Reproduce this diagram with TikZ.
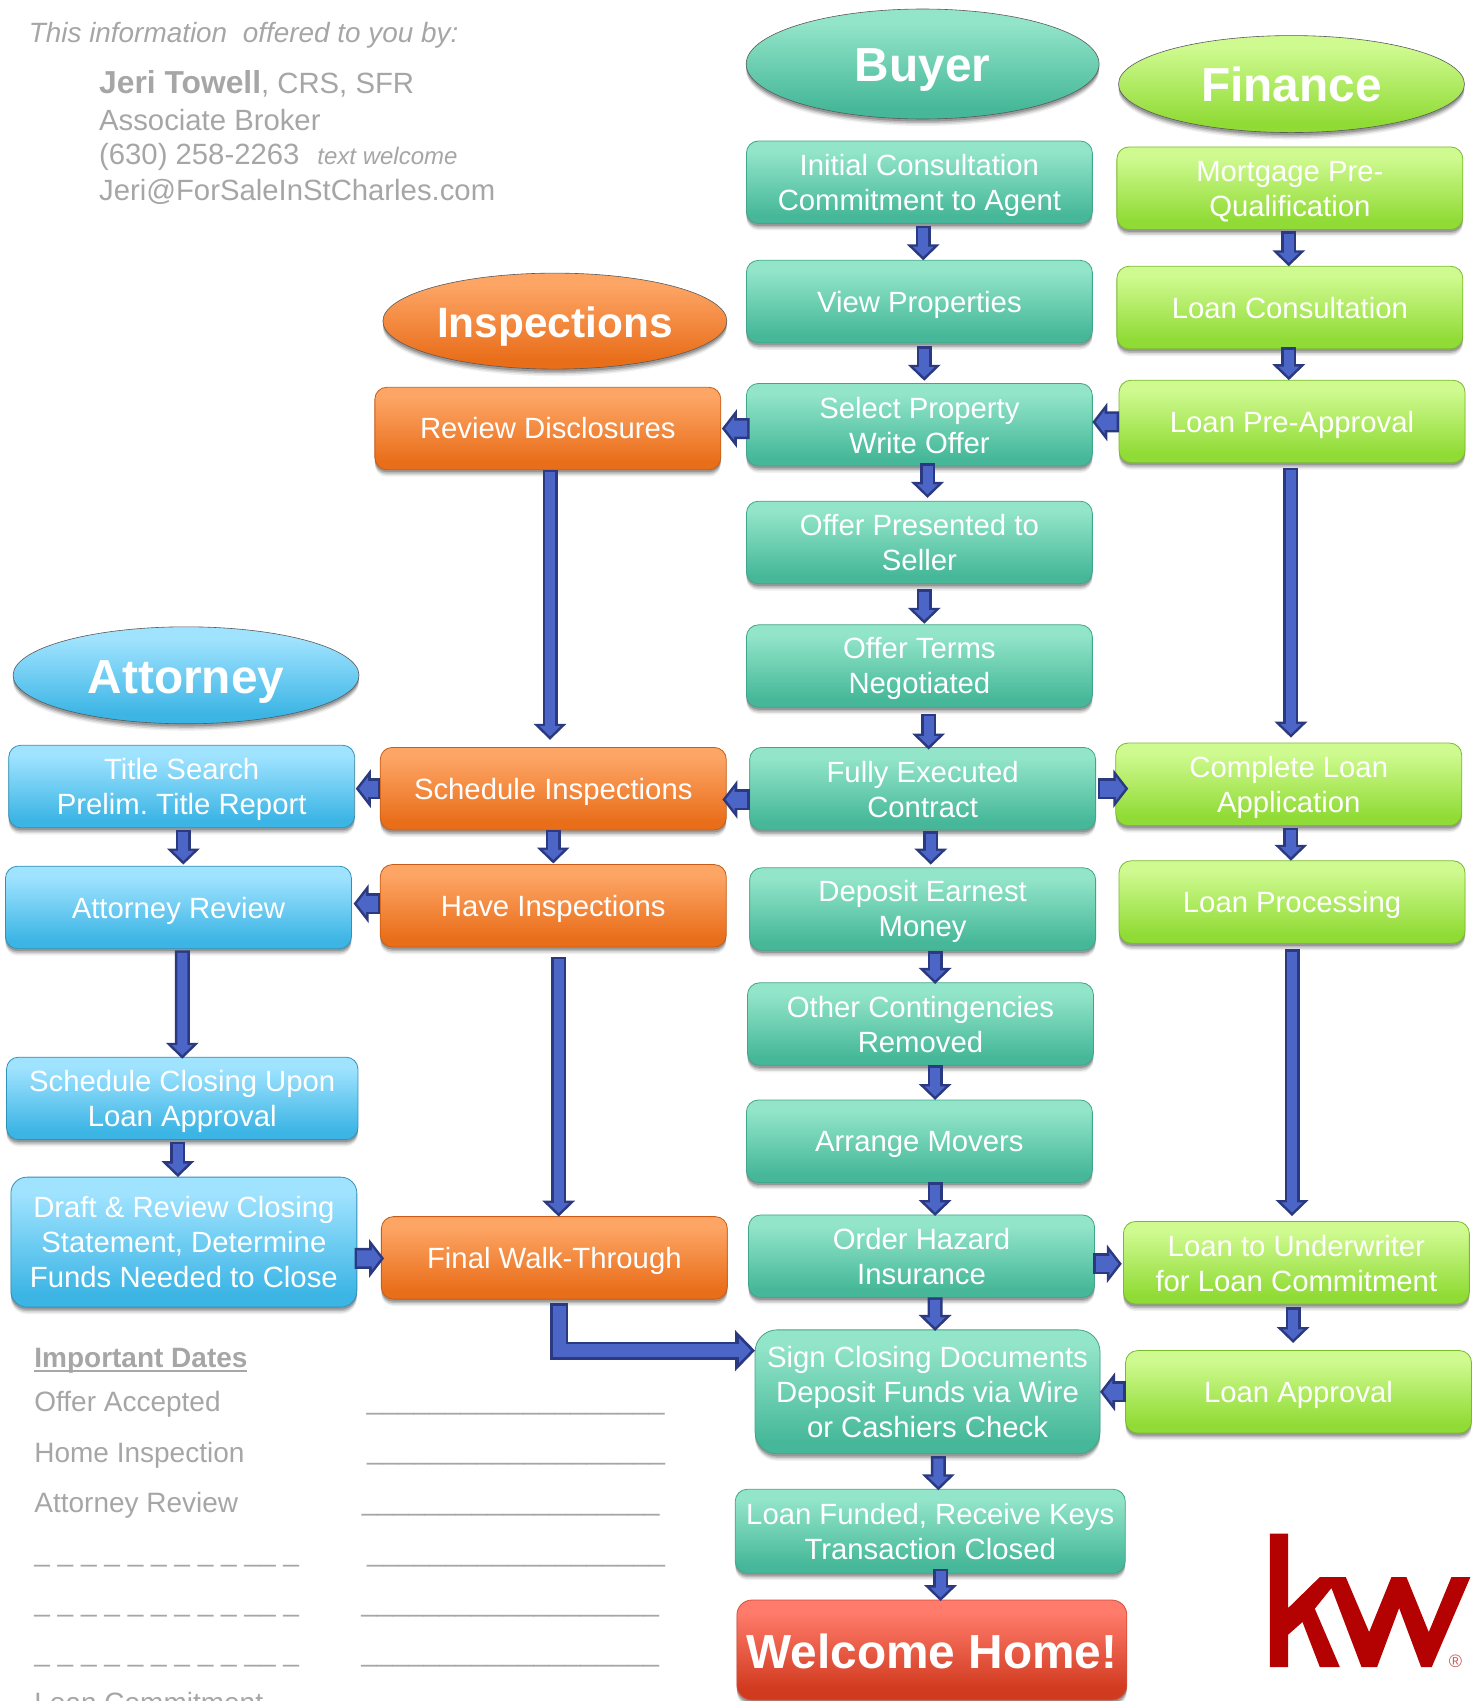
\documentclass[tikz,border=0pt]{standalone}
\usepackage{fontspec}
\setmainfont{Liberation Sans}
\usetikzlibrary{shapes.geometric,shadows,arrows.meta,calc}
\frenchspacing
\newcommand{\dn}[1]{\rule{0pt}{\dimexpr.73em+#1pt*2\relax}}
\definecolor{arrowdark}{HTML}{2B3A80}
\definecolor{arrowblue}{HTML}{4C66C8}
\definecolor{greytext}{HTML}{A6A6A6}
\definecolor{kwred}{HTML}{B40101}
\definecolor{tealtop}{HTML}{93E5C9}\definecolor{tealbot}{HTML}{46B899}
\definecolor{greentop}{HTML}{CFFA90}\definecolor{greenbot}{HTML}{90DB35}
\definecolor{orangetop}{HTML}{FDA565}\definecolor{orangebot}{HTML}{E96E1A}
\definecolor{bluetop}{HTML}{A0E3FF}\definecolor{bluebot}{HTML}{3CB5E5}
\definecolor{redtop}{HTML}{FF7B6B}\definecolor{redbot}{HTML}{D03A1E}
\pgfdeclareverticalshading{tealshade}{100bp}{color(0bp)=(tealbot); color(30bp)=(tealbot); color(69bp)=(tealtop); color(100bp)=(tealtop)}
\pgfdeclareverticalshading{greenshade}{100bp}{color(0bp)=(greenbot); color(30bp)=(greenbot); color(69bp)=(greentop); color(100bp)=(greentop)}
\pgfdeclareverticalshading{orangeshade}{100bp}{color(0bp)=(orangebot); color(30bp)=(orangebot); color(69bp)=(orangetop); color(100bp)=(orangetop)}
\pgfdeclareverticalshading{blueshade}{100bp}{color(0bp)=(bluebot); color(30bp)=(bluebot); color(69bp)=(bluetop); color(100bp)=(bluetop)}
\pgfdeclareverticalshading{redshade}{100bp}{color(0bp)=(redbot); color(30bp)=(redbot); color(69bp)=(redtop); color(100bp)=(redtop)}
\tikzset{
  softshadow/.style={
    drop shadow={shadow xshift=0pt,shadow yshift=-7pt,opacity=.06,fill=black},
    drop shadow={shadow xshift=0pt,shadow yshift=-5.5pt,opacity=.10,fill=black},
    drop shadow={shadow xshift=0pt,shadow yshift=-4pt,opacity=.14,fill=black},
    drop shadow={shadow xshift=0pt,shadow yshift=-2.5pt,opacity=.18,fill=black}},
  basebox/.style={rectangle,rounded corners=12pt,softshadow,line width=.8pt,outer sep=0pt,inner sep=0pt,
    minimum width=346pt,minimum height=82.5pt,align=center,text=white,
    font=\fontsize{29.3}{35}\selectfont},
  tealbox/.style={basebox,draw=tealbot!90!black,shading=tealshade},
  greenbox/.style={basebox,draw=greenbot!85!black,shading=greenshade},
  orangebox/.style={basebox,draw=orangebot!85!black,shading=orangeshade},
  bluebox/.style={basebox,draw=bluebot!80!black,shading=blueshade},
  redbox/.style={basebox,draw=redbot!90!white,shading=redshade,rounded corners=15pt,
    font=\fontsize{47.8}{55}\selectfont\bfseries},
  header/.style={ellipse,softshadow,draw=black!65,line width=.6pt,outer sep=0pt,inner sep=0pt,text=white,
    font=\fontsize{47.8}{55}\selectfont\bfseries},
  greyline/.style={anchor=base west,inner sep=0pt,outer sep=0pt,text=greytext,font=\fontsize{29.3}{35}\selectfont},
  dateline/.style={anchor=base west,inner sep=0pt,outer sep=0pt,text=greytext,font=\fontsize{28}{33}\selectfont},
  blankline/.style={dateline,font=\fontsize{28.2}{33}\selectfont},
  blk/.style={draw=arrowdark,line width=15pt,-{Triangle[width=32pt,length=16pt]},
    postaction={draw=arrowblue,line width=10pt,shorten >=3.6pt,shorten <=2.5pt,-{Triangle[width=20pt,length=10pt]}}},
  blkh/.style={draw=arrowdark,line width=21pt,-{Triangle[width=38pt,length=15pt]},
    postaction={draw=arrowblue,line width=16pt,shorten >=3.3pt,shorten <=2.5pt,-{Triangle[width=23pt,length=9pt]}}},
  blkelbow/.style={draw=arrowdark,line width=18pt,-{Triangle[width=40pt,length=20pt]},
    postaction={draw=arrowblue,line width=12.5pt,shorten >=4pt,shorten <=3pt,-{Triangle[width=24pt,length=12pt]}}},
}
\begin{document}
\begin{tikzpicture}[x=1.085pt,y=-1.085pt]
\useasboundingbox (0,0) rectangle (1365,1568);
\clip (0,0) rectangle (1365,1568);

% headers
\node[header,shading=tealshade,minimum width=353pt,minimum height=110pt] (hbuyer) at (850.5,59) {\dn{5.4}Buyer};
\node[header,shading=greenshade,minimum width=346pt,minimum height=97pt] (hfinance) at (1190.5,77.5) {Finance};
\node[header,shading=orangeshade,minimum width=344pt,minimum height=96pt,font=\fontsize{42.4}{50}\selectfont\bfseries] (hinsp) at (511.5,296) {\dn{5.4}Inspections};
\node[header,shading=blueshade,minimum width=346pt,minimum height=97pt] (hatt) at (171.5,622.5) {\dn{6}Attorney};

% buyer column
\node[tealbox] (b1) at (847.5,168) {\dn{3.2}Initial Consultation\\Commitment to Agent};
\node[tealbox] (b2) at (847.5,278) {\dn{3.2}View Properties};
\node[tealbox] (b3) at (847.5,391.5) {\dn{1}Select Property\\Write Offer};
\node[tealbox] (b4) at (847.5,500) {Offer Presented to\\Seller};
\node[tealbox] (b5) at (847.5,614) {\dn{2.2}Offer Terms\\Negotiated};
\node[tealbox] (b6) at (850.5,727) {\dn{1}Fully Executed\\Contract};
\node[tealbox] (b7) at (850.5,838) {\dn{2.2}Deposit Earnest\\Money};
\node[tealbox] (b8) at (848.5,944) {\dn{.5}Other Contingencies\\Removed};
\node[tealbox] (b9) at (847.5,1052) {\dn{2.2}Arrange Movers};
\node[tealbox] (b10) at (849.5,1158) {Order Hazard\\Insurance};
\node[tealbox,rounded corners=22pt,minimum width=345pt,minimum height=124pt] (b11) at (855,1283) {Sign Closing Documents\\Deposit Funds via Wire\\or Cashiers Check};
\node[tealbox,minimum width=390pt,minimum height=84pt] (b12) at (857.5,1411.5) {Loan Funded, Receive Keys\\Transaction Closed};
\node[redbox,minimum width=390pt,minimum height=100pt] (b13) at (859,1521) {\dn{1}Welcome Home!};

% finance column
\node[greenbox] (f1) at (1189,173.5) {\dn{3.2}Mortgage Pre-\\Qualification};
\node[greenbox] (f2) at (1189,283.5) {Loan Consultation};
\node[greenbox] (f3) at (1191,388.5) {\dn{3.2}Loan Pre-Approval};
\node[greenbox] (f4) at (1188,723) {\dn{3.2}Complete Loan\\Application};
\node[greenbox] (f5) at (1191,831.5) {\dn{3.2}Loan Processing};
\node[greenbox] (f6) at (1195,1164) {\dn{1}Loan to Underwriter\\for Loan Commitment};
\node[greenbox] (f7) at (1197,1283) {\dn{3.2}Loan Approval};

% inspections column
\node[orangebox] (i1) at (505,395) {Review Disclosures};
\node[orangebox] (i2) at (510,727) {\dn{3.2}Schedule Inspections};
\node[orangebox] (i3) at (510,835) {\dn{3.2}Have Inspections};
\node[orangebox] (i4) at (511,1159.5) {\dn{3.2}Final Walk-Through};

% attorney column
\node[bluebox] (a1) at (167.5,725) {\dn{3.2}Title Search\\Prelim. Title Report};
\node[bluebox] (a2) at (164.5,836.5) {\dn{3.2}Attorney Review};
\node[bluebox,minimum width=351.5pt] (a3) at (168,1012.5) {\dn{3.2}Schedule Closing Upon\\Loan Approval};
\node[bluebox,rounded corners=16pt,minimum height=130pt] (a4) at (169.5,1145) {Draft \& Review Closing\\Statement, Determine\\Funds Needed to Close};

% vertical connectors
\draw[blk] ($(b1.south)+(3.5,2)$) -- ($(b2.north)+(3.5,0)$);
\draw[blk] ($(b2.south)+(4.5,3)$) -- ($(b3.north)+(4.5,-2.5)$);
\draw[blk] ($(b3.south)+(7.5,-2.5)$) -- ($(b4.north)+(7.5,-3)$);
\draw[blk] ($(b4.south)+(4.5,5)$) -- ($(b5.north)+(4.5,-1)$);
\draw[blk] ($(b5.south)+(8.5,6)$) -- ($(b6.north)+(5.5,2)$);
\draw[blk] ($(b6.south)+(7.5,1)$) -- ($(b7.north)+(7.5,-3)$);
\draw[blk] ($(b7.south)+(11.5,1)$) -- ($(b8.north)+(13.5,1)$);
\draw[blk] ($(b8.south)+(13.5,0)$) -- ($(b9.north)+(14.5,0)$);
\draw[blk] ($(b9.south)+(14.5,0)$) -- ($(b10.north)+(12.5,1)$);
\draw[blk] ($(b10.south)+(12.5,0)$) -- ($(b11.north)+(7,1)$);
\draw[blk] ($(b11.south)+(10,2)$) -- ($(b12.north)+(7.5,1)$);
\draw[blk] ($(b12.south)+(9.5,-4)$) -- ($(b13.north)+(8,1)$);
\draw[blk] ($(f1.south)+(-1,1.5)$) -- ($(f2.north)+(-1,0)$);
\draw[blk] ($(f2.south)+(-1,-1.5)$) -- ($(f3.north)+(-3,0)$);
\draw[blk] ($(f3.south)+(-1,4.5)$) -- ($(f4.north)+(2,-5)$);
\draw[blk] ($(f4.south)+(2,2)$) -- ($(f5.north)+(-1,0)$);
\draw[blk] ($(f5.south)+(0,5.5)$) -- ($(f6.north)+(-4,-5)$);
\draw[blk] ($(f6.south)+(-3,3)$) -- ($(f7.north)+(-5,-7)$);
\draw[blk] ($(i1.south)+(2,0)$) -- ($(i2.north)+(-3,-7)$);
\draw[blk] ($(i2.south)+(0,0)$) -- ($(i3.north)+(0,-1)$);
\draw[blk] ($(i3.south)+(5,9)$) -- ($(i4.north)+(4,0)$);
\draw[blk] ($(a1.south)+(1.5,2)$) -- ($(a2.north)+(4.5,-1.5)$);
\draw[blk] ($(a2.south)+(3.5,1.5)$) -- ($(a3.north)+(0,1.5)$);
\draw[blk] ($(a3.south)+(-4,2)$) -- ($(a4.north)+(-5.5,0)$);

% horizontal connectors
\draw[blkh] ($(b3.west)+(3,3.5)$) -- ($(i1.east)+(1,0)$);
\draw[blkh] ($(f3.west)+(0,0.5)$) -- ($(b3.east)+(0,-2.5)$);
\draw[blkh] ($(b6.west)+(0,10)$) -- ($(i2.east)+(-3.5,10)$);
\draw[blkh] ($(b6.east)+(2,0)$) -- ($(f4.west)+(11.5,4)$);
\draw[blkh] ($(i2.west)+(0,0)$) -- ($(a1.east)+(1,2)$);
\draw[blkh] ($(i3.west)+(0,-2)$) -- ($(a2.east)+(2,-3.5)$);
\draw[blkh] ($(a4.east)+(-2,15)$) -- ($(i4.west)+(2.5,0.5)$);
\draw[blkh] ($(b10.east)+(-1,7)$) -- ($(f6.west)+(-1.5,1)$);
\draw[blkh] ($(f7.west)+(0,0)$) -- ($(b11.east)+(0,0)$);

% elbow connector
\draw[blkelbow] ($(i4.south)+(4.7,4)$) |- ($(b11.west)+(0,-38)$);

% agent text
\node[greyline,font=\fontsize{27.9}{32}\selectfont\itshape] (offered) at (26.6,39.6) {This information\ \ offered to you by:};
\node[greyline] (agent) at (91.4,86) {{\fontsize{31.8}{35}\selectfont\textbf{Jeri Towell}}, CRS, SFR};
\node[greyline] (title) at (91.4,120) {Associate Broker};
\node[greyline] (phone) at (91.4,152) {(630) 258-2263\hspace{18pt}{\fontsize{24}{28}\selectfont\itshape text welcome}};
\node[greyline] (email) at (91.4,185) {Jeri@ForSaleInStCharles.com};

% important dates
\node[dateline] (dates) at (31.7,1261) {\rlap{\rule[-4.5pt]{213pt}{2pt}}\textbf{Important Dates}};
\node[dateline] (d1) at (31.7,1301) {Offer Accepted};
\node[dateline] (d2) at (31.7,1348) {Home Inspection};
\node[dateline] (d3) at (31.7,1394) {Attorney Review};
\node[dateline] (d4) at (31.7,1439) {\_ \_ \_ \_ \_ \_ \_ \_ \_ \_\_ \_};
\node[dateline] (d5) at (31.7,1485.4) {\_ \_ \_ \_ \_ \_ \_ \_ \_ \_\_ \_};
\node[dateline] (d6) at (31.7,1532) {\_ \_ \_ \_ \_ \_ \_ \_ \_ \_\_ \_};
\node[dateline] (d7) at (31.7,1579) {Loan Commitment};
\node[blankline] (l1) at (338,1299.4) {\_\_\_\_\_\_\_\_\_\_\_\_\_\_\_\_\_\_\_};
\node[blankline] (l2) at (338.5,1345.4) {\_\_\_\_\_\_\_\_\_\_\_\_\_\_\_\_\_\_\_};
\node[blankline] (l3) at (333.5,1392.4) {\_\_\_\_\_\_\_\_\_\_\_\_\_\_\_\_\_\_\_};
\node[blankline] (l4) at (338.5,1439) {\_\_\_\_\_\_\_\_\_\_\_\_\_\_\_\_\_\_\_};
\node[blankline] (l5) at (333,1485.4) {\_\_\_\_\_\_\_\_\_\_\_\_\_\_\_\_\_\_\_};
\node[blankline] (l6) at (333,1532) {\_\_\_\_\_\_\_\_\_\_\_\_\_\_\_\_\_\_\_};

% kw logo
\begin{scope}[shift={(1161.3,1405.5)},x=.3333pt,y=-.3333pt]
\fill[kwred] (30,27)--(85,27)--(85,250)--(180,157)--(258,157)--(328,322)--(395,157)--(440,157)--(507,322)--(575,157)--(632,157)--(516,427)--(484,427)--(418,250)--(352,427)--(305,427)--(215,190)--(165,252)--(240,427)--(180,427)--(128,292)--(85,330)--(85,427)--(30,427)--cycle;
\node[inner sep=0pt,text=kwred!65!white,font=\fontsize{18}{18}\selectfont] (reg) at (587,410) {®};
\end{scope}
\end{tikzpicture}
\end{document}
